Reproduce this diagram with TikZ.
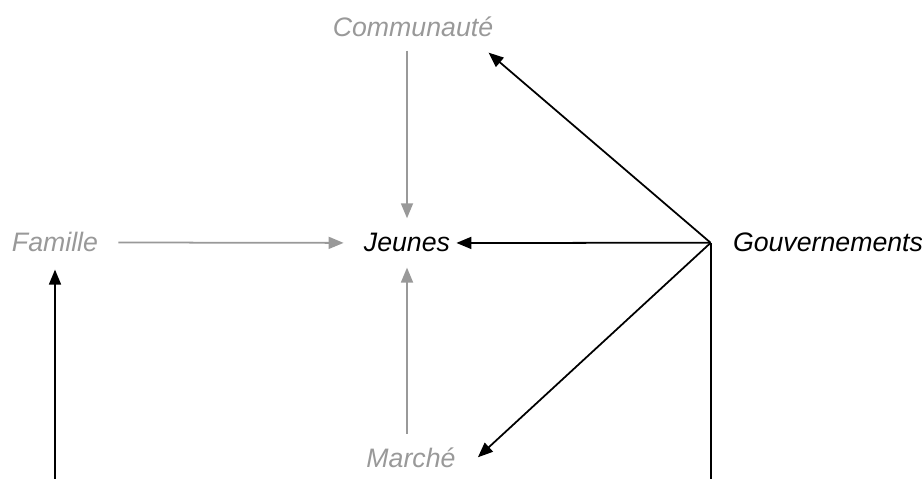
\documentclass[tikz,border=0pt]{standalone}
\usepackage{fontspec}
\setmainfont{Liberation Sans}
\usepackage{tikz}
\usetikzlibrary{arrows.meta,positioning}
\usetikzlibrary{calc}
\definecolor{grey}{RGB}{153,153,153}
\tikzstyle{actor} = [inner sep=0pt, anchor=base, font=\fontsize{15.2}{18}\selectfont\itshape]
\tikzstyle{faded} = [actor, text=grey]
\tikzstyle{greyline} = [draw=grey, line width=1pt, -{Triangle[length=0.3cm,width=0.24cm]}]
\tikzstyle{blackline} = [draw=black, line width=1pt, -{Triangle[length=0.3cm,width=0.24cm]}]
\tikzstyle{plainline} = [draw=black, line width=1pt]

\begin{document}
\begin{tikzpicture}[x=0.02cm,y=-0.02cm]
            \useasboundingbox (0,0) rectangle (922,479);
            \node [faded] (communaute) at (413,37) {Communauté};
            \node [faded] (famille) at (55,252) {Famille};
            \node [actor] (jeunes) at (407,252) {Jeunes};
            \node [faded] (marche) at (411,467) {Marché};
            \node [actor] (gouv) at (828,252) {Gouvernements};
            \coordinate [left=0.44cm of gouv.west] (hub);
            \coordinate (hubend) at (hub |- 0,479);
            \coordinate (famend) at (famille.south |- 0,479);

            % grey influences on the young
            \draw[greyline, shorten <=0.26cm, shorten >=0.3cm](communaute.south -| jeunes) -- (jeunes.north);
            \draw[greyline, shorten <=0.4cm, shorten >=0.4cm](famille.east) -- (jeunes.west);
            \draw[greyline, shorten <=0.26cm, shorten >=0.3cm](marche.north -| jeunes) -- (jeunes.south);

            % governments
            \draw[blackline, shorten >=0.12cm](hub) -- (jeunes.east);
            \draw[blackline](hub) -- ([shift={(-5,15)}]communaute.south east);
            \draw[blackline](hub) -- ([shift={(22,0)}]marche.east);
            \draw[plainline](hub) -- (hubend);
            \draw[blackline, shorten >=0.34cm](famend) -- (famille.south);
        \end{tikzpicture}
\end{document}
